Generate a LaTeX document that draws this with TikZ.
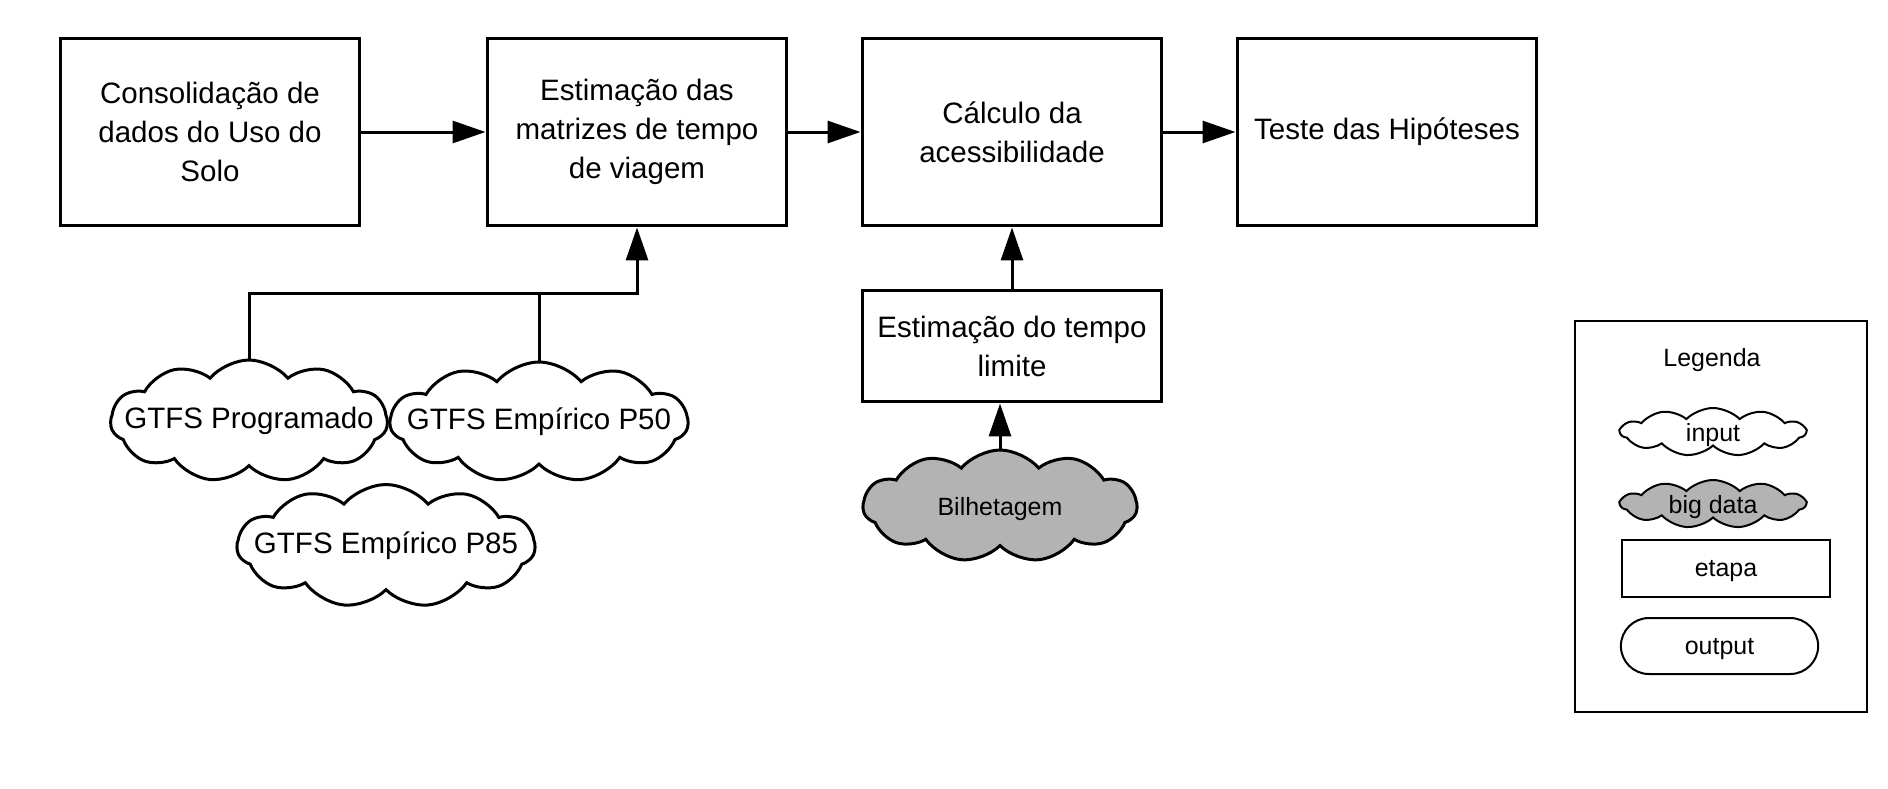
\documentclass[tikz,border=0pt]{standalone}
\usepackage{fontspec}
\setmainfont{Liberation Sans}
\usetikzlibrary{shapes.symbols,shapes.misc,arrows.meta}
\definecolor{bigdata}{RGB}{179,179,179}

\begin{document}
\begin{tikzpicture}[x=0.02cm,y=-0.02cm,
    etapa/.style={draw,line width=0.06cm,minimum width=6cm,minimum height=3.76cm,align=center,font=\fontsize{16.8}{22.2}\selectfont},
    nuvem/.style={draw,shape=cloud,cloud puffs=11,cloud puff arc=100,line width=0.06cm,inner sep=0pt,font=\fontsize{16.8}{22.2}\selectfont},
    legnuvem/.style={draw,shape=cloud,cloud puffs=11,cloud puff arc=90,line width=0.04cm,inner sep=0pt,minimum width=3.7cm,minimum height=0.96cm,legtxt},
    seta/.style={-{Triangle[length=0.66cm,width=0.44cm]},line width=0.06cm},
    legtxt/.style={font=\fontsize{14.2}{17}\selectfont,text depth=0pt}]
    \useasboundingbox (0,0) rectangle (1888,788);

    % etapas principais
    \node[etapa] (cons) at (210,132) {Consolidação de\\dados do Uso do\\Solo};
    \node[etapa] (est) at (637,132) {Estimação das\\matrizes de tempo\\de viagem};
    \node[etapa] (calc) at (1012,132) {Cálculo da\\acessibilidade};
    \node[etapa] (teste) at (1387,132) {Teste das Hipóteses};
    \node[etapa,minimum height=2.24cm] (lim) at (1012,346) {Estimação do tempo\\limite};

    % inputs
    \node[nuvem,minimum width=5.54cm,minimum height=2.44cm] (prog) at (249,421) {\makebox[0pt]{GTFS Programado}};
    \node[nuvem,minimum width=5.96cm,minimum height=2.4cm] (p50) at (539,422) {\makebox[0pt]{GTFS Empírico P50}};
    \node[nuvem,minimum width=5.96cm,minimum height=2.46cm] (p85) at (386,546) {\makebox[0pt]{GTFS Empírico P85}};
    \node[nuvem,fill=bigdata,minimum width=5.48cm,minimum height=2.24cm,legtxt] (bil) at (1000,506) {\makebox[0pt]{Bilhetagem}};

    % conexoes
    \coordinate (jn) at (637,293);
    \draw[seta] (cons.east) -- (est.west);
    \draw[seta] (est.east) -- (calc.west);
    \draw[seta] (calc.east) -- (teste.west);
    \draw[seta] (lim.north) -- (calc.south);
    \draw[seta] (bil.north) -- (bil.north |- lim.south);
    \draw[seta] (prog.north) |- (jn) -- (est.south);
    \draw[line width=0.06cm] (p50.north) -- (p50.north |- jn);

    % legenda
    \node[draw,line width=0.04cm,minimum width=5.84cm,minimum height=7.82cm] (leg) at (1721,516.5) {};
    \node[legtxt] (legt) at (1712,357) {Legenda};
    \node[legnuvem] (lin) at (1713,432) {\makebox[0pt]{input}};
    \node[legnuvem,fill=bigdata] (lbig) at (1713,504) {\makebox[0pt]{big data}};
    \node[draw,line width=0.04cm,minimum width=4.16cm,minimum height=1.14cm,legtxt] (let) at (1726,568) {etapa};
    \node[draw,rounded rectangle,line width=0.04cm,minimum width=4.18cm,minimum height=1.12cm,legtxt] (lout) at (1719.5,646) {output};
\end{tikzpicture}
\end{document}
